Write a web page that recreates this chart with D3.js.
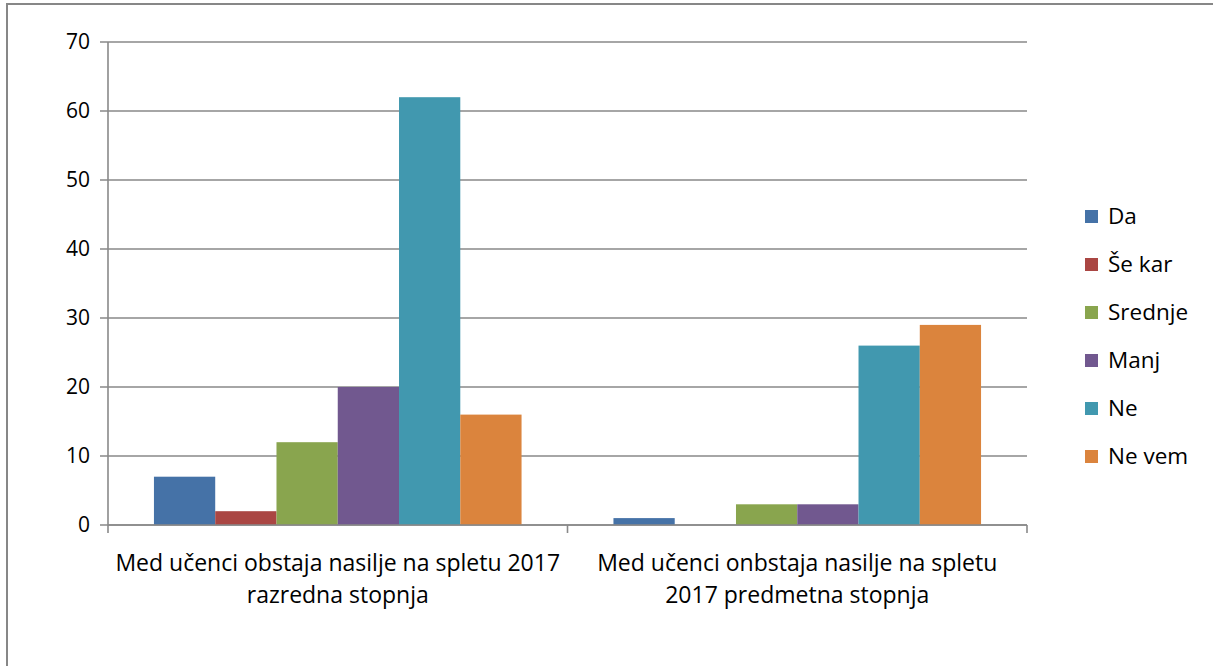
<!DOCTYPE html>
<html>
<head>
<meta charset="utf-8">
<script src="https://cdn.jsdelivr.net/npm/d3@7"></script>
<style>
  html, body { margin: 0; padding: 0; background: #fff; }
  svg { display: block; }
  text { font-family: "Open Sans", "DejaVu Sans", sans-serif; fill: #000; }
</style>
</head>
<body>
<svg id="chart" width="1213" height="666"></svg>
<script>
// ---- data ----
const categories = ["razredna", "predmetna"];
const categoryLines = [
  ["Med učenci obstaja nasilje na spletu 2017", "razredna stopnja"],
  ["Med učenci onbstaja nasilje na spletu", "2017 predmetna stopnja"]
];
const seriesNames = ["Da", "Še kar", "Srednje", "Manj", "Ne", "Ne vem"];
const valuesRazredna = [7, 2, 12, 20, 62, 16];
const valuesPredmetna = [1, 0, 3, 3, 26, 29];
const seriesColors = ["#4572A7", "#AA4643", "#89A54E", "#71588F", "#4198AF", "#DB843D"];
const yTicks = [0, 10, 20, 30, 40, 50, 60, 70];

const table = categories.map((c, i) => ({
  cat: c,
  lines: categoryLines[i],
  values: seriesNames.map((s, j) => ({ name: s, value: (i === 0 ? valuesRazredna : valuesPredmetna)[j] }))
}));

// ---- layout ----
const svg = d3.select("#chart");
const plotLeft = 108, plotRight = 1027, plotTop = 42, plotBottom = 525;
const gridColor = "#898989";

// outer frame (extends beyond the viewport on right/bottom)
svg.append("rect")
  .attr("x", 7).attr("y", 4)
  .attr("width", 1220).attr("height", 700)
  .attr("fill", "none").attr("stroke", "#878787").attr("stroke-width", 2);

const x0 = d3.scaleBand().domain(categories).range([plotLeft, plotRight]).paddingInner(0).paddingOuter(0);
const x1 = d3.scaleBand().domain(seriesNames).range([0, x0.bandwidth()]).paddingInner(0).paddingOuter(0.75);
const y = d3.scaleLinear().domain([0, 70]).range([plotBottom, plotTop]);
const color = d3.scaleOrdinal().domain(seriesNames).range(seriesColors);

// gridlines
svg.append("g").selectAll("line").data(yTicks).join("line")
  .attr("x1", plotLeft - 8).attr("x2", plotRight)
  .attr("y1", d => y(d)).attr("y2", d => y(d))
  .attr("stroke", gridColor).attr("stroke-width", 1.6);

// y axis via d3 axis (labels), domain removed
const yAxis = svg.append("g").attr("transform", `translate(${plotLeft},0)`)
  .call(d3.axisLeft(y).tickValues(yTicks).tickSize(0).tickPadding(18).tickFormat(d3.format("d")));
yAxis.select(".domain").remove();
yAxis.selectAll("text").style("font-size", "21px").style("font-family", '"Open Sans", sans-serif').attr("fill", "#000");

// bars
const groups = svg.append("g").selectAll("g").data(table).join("g")
  .attr("transform", d => `translate(${x0(d.cat)},0)`);
groups.selectAll("rect").data(d => d.values).join("rect")
  .attr("x", d => x1(d.name))
  .attr("width", x1.bandwidth())
  .attr("y", d => y(d.value))
  .attr("height", d => y(0) - y(d.value))
  .attr("fill", d => color(d.name));

// y axis line
svg.append("line").attr("x1", plotLeft).attr("x2", plotLeft).attr("y1", plotTop).attr("y2", plotBottom)
  .attr("stroke", gridColor).attr("stroke-width", 1.6);

// x axis line and ticks
svg.append("line").attr("x1", plotLeft).attr("x2", plotRight).attr("y1", plotBottom).attr("y2", plotBottom)
  .attr("stroke", gridColor).attr("stroke-width", 1.6);
const tickXs = categories.map(c => x0(c)).concat([x0.range()[1]]);
svg.append("g").selectAll("line").data(tickXs).join("line")
  .attr("x1", d => d).attr("x2", d => d).attr("y1", plotBottom).attr("y2", plotBottom + 8)
  .attr("stroke", gridColor).attr("stroke-width", 1.6);

// category labels
const labels = svg.append("g").selectAll("text").data(table).join("text")
  .attr("text-anchor", "middle")
  .style("font-size", "23px");
labels.selectAll("tspan").data(d => d.lines.map(l => ({ l, cx: x0(d.cat) + x0.bandwidth() / 2 }))).join("tspan")
  .attr("x", d => d.cx)
  .attr("y", (d, i) => 571 + i * 32)
  .text(d => d.l);

// legend
const legend = svg.append("g").selectAll("g").data(seriesNames).join("g")
  .attr("transform", (d, i) => `translate(1085, ${216.5 + i * 48})`);
legend.append("rect").attr("x", 0).attr("y", -6.5).attr("width", 13).attr("height", 13)
  .attr("fill", d => color(d));
legend.append("text").attr("x", 23).attr("y", 0).attr("dy", "0.35em")
  .style("font-size", "22.5px").text(d => d);
</script>
</body>
</html>
